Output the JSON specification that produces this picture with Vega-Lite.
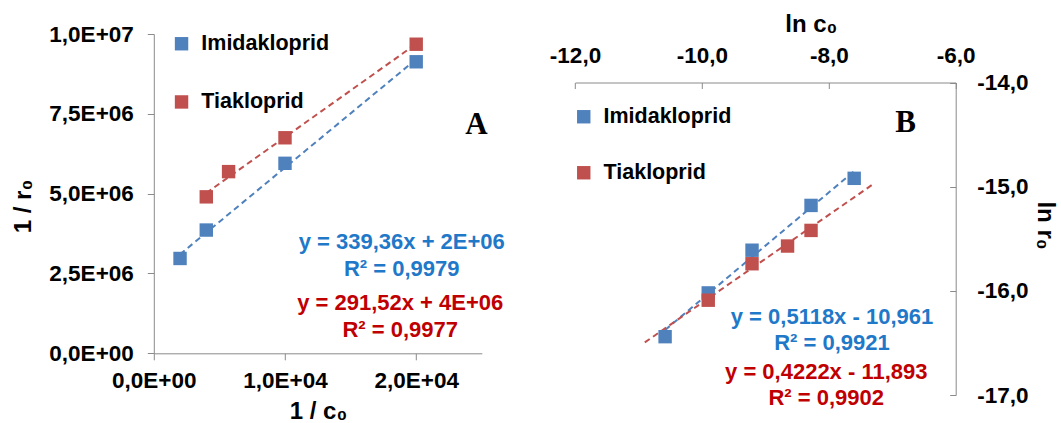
{
  "$schema": "https://vega.github.io/schema/vega-lite/v6.json",
  "width": 801.9,
  "height": 361,
  "autosize": "none",
  "padding": {"left": 153.8, "top": 34, "right": 105.3, "bottom": 28},
  "background": "white",
  "datasets": {
    "a_pts": [
      {"x": 2000, "y": 2970000, "s": "Imidakloprid"},
      {"x": 4000, "y": 3860000, "s": "Imidakloprid"},
      {"x": 10000, "y": 5950000, "s": "Imidakloprid"},
      {"x": 20000, "y": 9130000, "s": "Imidakloprid"},
      {"x": 4000, "y": 4900000, "s": "Tiakloprid"},
      {"x": 5700, "y": 5690000, "s": "Tiakloprid"},
      {"x": 10000, "y": 6750000, "s": "Tiakloprid"},
      {"x": 20000, "y": 9680000, "s": "Tiakloprid"}
    ],
    "a_fit": [
      {"x": 2000, "y": 3100000, "s": "Imidakloprid"},
      {"x": 20000, "y": 9210000, "s": "Imidakloprid"},
      {"x": 4000, "y": 5020000, "s": "Tiakloprid"},
      {"x": 20000, "y": 9690000, "s": "Tiakloprid"}
    ],
    "a_eq": [
      {"x": 18900, "y": 3490000, "t": "y = 339,36x + 2E+06", "s": "Imidakloprid"},
      {"x": 18900, "y": 2640000, "t": "R² = 0,9979", "s": "Imidakloprid"},
      {"x": 18780, "y": 1575000, "t": "y = 291,52x + 4E+06", "s": "Tiakloprid"},
      {"x": 18780, "y": 730000, "t": "R² = 0,9977", "s": "Tiakloprid"}
    ],
    "a_tag": [{"x": 24600, "y": 7150000, "t": "A"}],
    "b_pts": [
      {"x": -10.58, "y": -16.44, "s": "Imidakloprid"},
      {"x": -9.90, "y": -16.02, "s": "Imidakloprid"},
      {"x": -9.21, "y": -15.61, "s": "Imidakloprid"},
      {"x": -8.28, "y": -15.18, "s": "Imidakloprid"},
      {"x": -7.60, "y": -14.92, "s": "Imidakloprid"},
      {"x": -9.90, "y": -16.09, "s": "Tiakloprid"},
      {"x": -9.21, "y": -15.74, "s": "Tiakloprid"},
      {"x": -8.65, "y": -15.57, "s": "Tiakloprid"},
      {"x": -8.28, "y": -15.42, "s": "Tiakloprid"}
    ],
    "b_fit": [
      {"x": -10.58, "y": -16.376, "s": "Imidakloprid"},
      {"x": -7.60, "y": -14.851, "s": "Imidakloprid"},
      {"x": -10.90, "y": -16.495, "s": "Tiakloprid"},
      {"x": -7.28, "y": -14.967, "s": "Tiakloprid"}
    ],
    "b_eq": [
      {"x": -7.95, "y": -16.25, "t": "y = 0,5118x - 10,961", "s": "Imidakloprid"},
      {"x": -7.95, "y": -16.50, "t": "R² = 0,9921", "s": "Imidakloprid"},
      {"x": -8.04, "y": -16.78, "t": "y = 0,4222x - 11,893", "s": "Tiakloprid"},
      {"x": -8.04, "y": -17.03, "t": "R² = 0,9902", "s": "Tiakloprid"}
    ],
    "b_tag": [{"x": -6.79, "y": -14.39, "t": "B"}]
  },
  "config": {
    "view": {"stroke": null},
    "axis": {
      "grid": false,
      "labelFont": "Liberation Sans",
      "labelFontWeight": "bold",
      "labelFontSize": 22.5,
      "labelColor": "#000",
      "titleFont": "Liberation Sans",
      "titleFontWeight": "bold",
      "titleFontSize": 24,
      "titleColor": "#000",
      "domainColor": "#8a8a8a",
      "tickColor": "#8a8a8a",
      "labelOverlap": false,
      "labelFlush": false,
      "labelBound": false
    }
  },
  "layer": [
    {
      "encoding": {
        "x": {
          "field": "x", "type": "quantitative",
          "scale": {"domain": [0, 25000], "range": [0, 328], "nice": false, "zero": false},
          "axis": {
            "orient": "bottom", "offset": -41.7, "values": [0, 10000, 20000],
            "labelExpr": "datum.value == 0 ? '0,0E+00' : datum.value == 10000 ? '1,0E+04' : '2,0E+04'",
            "tickSize": 6.5, "labelPadding": 10,
            "title": "1 / c₀", "titleX": 164.2, "titleY": 57.7, "titleBaseline": "middle", "titleAlign": "center", "titleAngle": 0
          }
        },
        "y": {
          "field": "y", "type": "quantitative",
          "scale": {"domain": [0, 10000000], "range": [319.3, 0], "nice": false, "zero": false},
          "axis": {
            "orient": "left", "values": [0, 2500000, 5000000, 7500000, 10000000],
            "labelExpr": "datum.value == 0 ? '0,0E+00' : datum.value == 2500000 ? '2,5E+06' : datum.value == 5000000 ? '5,0E+06' : datum.value == 7500000 ? '7,5E+06' : '1,0E+07'",
            "tickSize": 6.5, "labelPadding": 14,
            "title": "1 / r₀", "titleX": -130.3, "titleY": 172, "titleAngle": -90, "titleBaseline": "middle", "titleAlign": "center"
          }
        }
      },
      "layer": [
        {
          "data": {"name": "a_fit"},
          "transform": [{"filter": "datum.s == 'Imidakloprid'"}],
          "mark": {"type": "line", "strokeDash": [6, 4], "strokeWidth": 2, "color": "#4f81bd"},
          "encoding": {}
        },
        {
          "data": {"name": "a_fit"},
          "transform": [{"filter": "datum.s == 'Tiakloprid'"}],
          "mark": {"type": "line", "strokeDash": [6, 4], "strokeWidth": 2, "color": "#c0504d"},
          "encoding": {}
        },
        {
          "data": {"name": "a_pts"},
          "mark": {"type": "point", "shape": "square", "filled": true, "size": 180, "opacity": 1},
          "encoding": {
            "color": {
              "field": "s", "type": "nominal",
              "scale": {"domain": ["Imidakloprid", "Tiakloprid"], "range": ["#4f81bd", "#c0504d"]},
              "legend": {
                "orient": "none", "legendX": 17, "legendY": -1, "title": null,
                "symbolType": "square", "symbolSize": 180,
                "labelFont": "Liberation Sans", "labelFontWeight": "bold", "labelFontSize": 21.5, "labelColor": "#000",
                "labelOffset": 9, "rowPadding": 35.2
              }
            }
          }
        },
        {
          "data": {"name": "a_eq"},
          "transform": [{"filter": "datum.s == 'Imidakloprid'"}],
          "mark": {"type": "text", "font": "Liberation Sans", "fontWeight": "bold", "fontSize": 22, "align": "center", "baseline": "middle", "color": "#1f78c8"},
          "encoding": {"text": {"field": "t"}}
        },
        {
          "data": {"name": "a_eq"},
          "transform": [{"filter": "datum.s == 'Tiakloprid'"}],
          "mark": {"type": "text", "font": "Liberation Sans", "fontWeight": "bold", "fontSize": 22, "align": "center", "baseline": "middle", "color": "#c00000"},
          "encoding": {"text": {"field": "t"}}
        },
        {
          "data": {"name": "a_tag"},
          "mark": {"type": "text", "font": "Liberation Serif", "fontWeight": "bold", "fontSize": 31, "color": "#000", "align": "center", "baseline": "middle"},
          "encoding": {"text": {"field": "t"}}
        }
      ]
    },
    {
      "encoding": {
        "x": {
          "field": "x", "type": "quantitative",
          "scale": {"domain": [-12, -6], "range": [421.2, 801.9], "nice": false, "zero": false},
          "axis": {
            "orient": "top", "offset": -48.5, "values": [-12, -10, -8, -6],
            "labelExpr": "'-' + replace(format(abs(datum.value), '.1f'), '.', ',')",
            "tickSize": -6, "labelPadding": 20.6,
            "title": "ln c₀", "titleX": 657, "titleY": -58.5, "titleBaseline": "middle", "titleAlign": "center", "titleAngle": 0
          }
        },
        "y": {
          "field": "y", "type": "quantitative",
          "scale": {"domain": [-17, -14], "range": [361, 48.5], "nice": false, "zero": false},
          "axis": {
            "orient": "right", "values": [-17, -16, -15, -14],
            "labelExpr": "'-' + replace(format(abs(datum.value), '.1f'), '.', ',')",
            "tickSize": -6, "labelPadding": 27,
            "title": "ln r₀", "titleX": 89, "titleY": 191, "titleAngle": 90, "titleBaseline": "middle", "titleAlign": "center"
          }
        }
      },
      "layer": [
        {
          "data": {"name": "b_fit"},
          "transform": [{"filter": "datum.s == 'Imidakloprid'"}],
          "mark": {"type": "line", "strokeDash": [6, 4], "strokeWidth": 2, "color": "#4f81bd"},
          "encoding": {}
        },
        {
          "data": {"name": "b_fit"},
          "transform": [{"filter": "datum.s == 'Tiakloprid'"}],
          "mark": {"type": "line", "strokeDash": [6, 4], "strokeWidth": 2, "color": "#c0504d"},
          "encoding": {}
        },
        {
          "data": {"name": "b_pts"},
          "mark": {"type": "point", "shape": "square", "filled": true, "size": 180, "opacity": 1},
          "encoding": {
            "fill": {
              "field": "s", "type": "nominal",
              "scale": {"range": ["#4f81bd", "#c0504d"]},
              "legend": {
                "orient": "none", "legendX": 419.2, "legendY": 72, "title": null,
                "symbolType": "square", "symbolSize": 180,
                "labelFont": "Liberation Sans", "labelFontWeight": "bold", "labelFontSize": 21.5, "labelColor": "#000",
                "labelOffset": 9, "rowPadding": 33
              }
            }
          }
        },
        {
          "data": {"name": "b_eq"},
          "transform": [{"filter": "datum.s == 'Imidakloprid'"}],
          "mark": {"type": "text", "font": "Liberation Sans", "fontWeight": "bold", "fontSize": 22, "align": "center", "baseline": "middle", "color": "#1f78c8"},
          "encoding": {"text": {"field": "t"}}
        },
        {
          "data": {"name": "b_eq"},
          "transform": [{"filter": "datum.s == 'Tiakloprid'"}],
          "mark": {"type": "text", "font": "Liberation Sans", "fontWeight": "bold", "fontSize": 22, "align": "center", "baseline": "middle", "color": "#c00000"},
          "encoding": {"text": {"field": "t"}}
        },
        {
          "data": {"name": "b_tag"},
          "mark": {"type": "text", "font": "Liberation Serif", "fontWeight": "bold", "fontSize": 31, "color": "#000", "align": "center", "baseline": "middle"},
          "encoding": {"text": {"field": "t"}}
        }
      ]
    }
  ],
  "resolve": {
    "scale": {"x": "independent", "y": "independent"},
    "axis": {"x": "independent", "y": "independent"}
  }
}
